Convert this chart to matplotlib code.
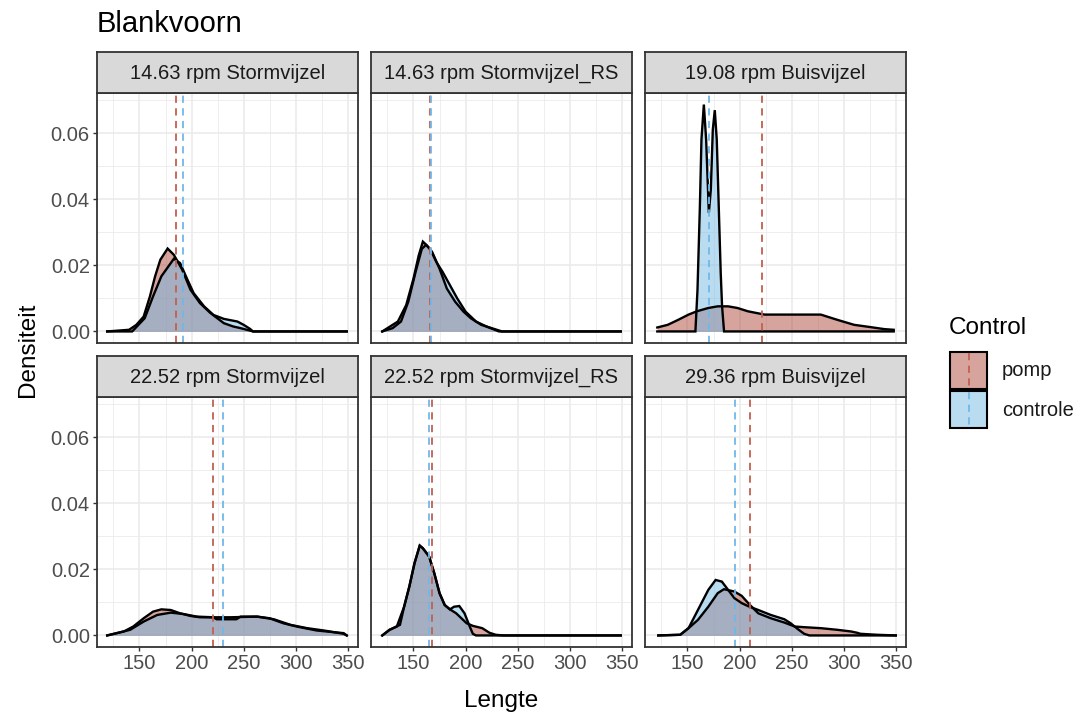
import matplotlib
matplotlib.use("Agg")
import matplotlib.pyplot as plt
from matplotlib.patches import Rectangle

plt.rcParams['font.family'] = ['Liberation Sans', 'DejaVu Sans']

# facet titles, in reading order
panels = ["14.63 rpm Stormvijzel", "14.63 rpm Stormvijzel_RS", "19.08 rpm Buisvijzel",
          "22.52 rpm Stormvijzel", "22.52 rpm Stormvijzel_RS", "29.36 rpm Buisvijzel"]
groups = ["pomp", "controle"]

# density curves (x = Lengte, y = Densiteit)
pomp_x = [
    [119, 140, 147, 154, 160, 165, 170, 177, 183, 191, 199, 208, 218, 231, 240, 247, 253, 259, 349],
    [120, 125, 135, 143, 150, 155, 159, 163, 168, 175, 182, 190, 198, 205, 215, 225, 235, 349],
    [121, 131, 141, 151, 159, 170, 179, 189, 198, 208, 224, 246, 278, 294, 310, 326, 339, 348],
    [119, 135, 144, 154, 163, 171, 180, 189, 199, 208, 221, 237, 263, 275, 288, 301, 320, 336, 346, 349],
    [120, 127, 137, 141, 146, 151, 156, 159, 165, 170, 175, 180, 185, 191, 201, 207, 216, 223, 229, 236, 349],
    [122, 143, 151, 160, 170, 179, 185, 195, 202, 210, 218, 230, 243, 253, 262, 278, 294, 307, 313, 316, 332, 350],
]
pomp_y = [
    [0, 0.0005, 0.002, 0.0045, 0.0106, 0.0167, 0.0217, 0.0251, 0.0232, 0.0187, 0.0126, 0.0086, 0.0056,
     0.0025, 0.0015, 0.0010, 0.0005, 0, 0],
    [0, 0.001, 0.003, 0.008, 0.016, 0.023, 0.0272, 0.026, 0.024, 0.019, 0.013, 0.009, 0.006, 0.004,
     0.002, 0.001, 0, 0],
    [0.0012, 0.0020, 0.0035, 0.0051, 0.0061, 0.0071, 0.0076, 0.0076, 0.0071, 0.0061, 0.0051, 0.0051,
     0.0051, 0.0035, 0.0020, 0.0013, 0.0007, 0.0005],
    [0, 0.0012, 0.0027, 0.0052, 0.0072, 0.0079, 0.0077, 0.0067, 0.0059, 0.0055, 0.0055, 0.0055, 0.0057,
     0.0052, 0.0037, 0.0027, 0.0015, 0.0010, 0.0007, 0],
    [0, 0.0017, 0.0032, 0.0087, 0.0148, 0.0219, 0.0272, 0.0264, 0.0239, 0.0188, 0.0128, 0.0092, 0.0079,
     0.0067, 0.0037, 0.0029, 0.0022, 0.0008, 0.0002, 0, 0],
    [0, 0.0002, 0.0022, 0.0047, 0.0087, 0.0128, 0.0140, 0.0133, 0.0120, 0.0092, 0.0067, 0.0052, 0.0039,
     0.0027, 0.0025, 0.0022, 0.0017, 0.0012, 0.0008, 0.0005, 0.0002, 0],
]
controle_x = [
    [119, 143, 155, 163, 171, 183, 189, 196, 202, 212, 221, 231, 244, 250, 256, 259, 349],
    [120, 130, 138, 145, 152, 158, 162, 166, 172, 178, 185, 192, 200, 210, 220, 232, 349],
    [121, 157.6, 159.6, 161.9, 163.4, 165.7, 167.9, 170.5, 172.4, 174.3, 176.2, 178.1, 180.0, 181.9,
     183.2, 185.1, 348],
    [119, 141, 154, 167, 180, 192, 205, 221, 224, 243, 247, 263, 279, 295, 311, 327, 346, 349],
    [120, 127, 134, 141, 146, 151, 156, 159, 165, 170, 175, 180, 185, 189, 194, 199, 204, 207, 210, 349],
    [122, 143, 151, 160, 170, 177, 183, 189, 195, 202, 208, 218, 230, 243, 249, 256, 262, 267, 350],
]
controle_y = [
    [0, 0, 0.004, 0.0106, 0.0167, 0.0220, 0.0207, 0.0157, 0.0116, 0.0076, 0.0050, 0.0038, 0.0030,
     0.0020, 0.0008, 0, 0],
    [0, 0.001, 0.003, 0.009, 0.018, 0.025, 0.0262, 0.025, 0.021, 0.018, 0.014, 0.010, 0.006, 0.003,
     0.0015, 0, 0],
    [0, 0, 0.0126, 0.0379, 0.0581, 0.0687, 0.0581, 0.0359, 0.0429, 0.0611, 0.0670, 0.0581, 0.0379,
     0.0177, 0.0076, 0, 0],
    [0, 0.0017, 0.0042, 0.0062, 0.0069, 0.0065, 0.0057, 0.0055, 0.0049, 0.0049, 0.0057, 0.0057, 0.0049,
     0.0032, 0.0022, 0.0015, 0.0005, 0],
    [0, 0.0017, 0.0027, 0.0087, 0.0148, 0.0219, 0.0272, 0.0264, 0.0239, 0.0188, 0.0128, 0.0092, 0.0079,
     0.0087, 0.0089, 0.0067, 0.0027, 0.0005, 0, 0],
    [0, 0.0002, 0.0022, 0.0077, 0.0138, 0.0168, 0.0163, 0.0138, 0.0113, 0.0098, 0.0089, 0.0077, 0.0062,
     0.0049, 0.0037, 0.0019, 0.0005, 0, 0],
]
# mean lengths (dashed lines)
pomp_mean = [185.2, 165.5, 221.4, 220.4, 167.9, 209.7]
controle_mean = [191.6, 166.5, 170.7, 230.6, 164.7, 195.9]

fill_col = {"pomp": "#B04A3C", "controle": "#77BBE5"}
line_col = {"pomp": "#C06050", "controle": "#70B8E8"}

W, H = 1080, 716
fig = plt.figure(figsize=(W / 100, H / 100), dpi=100)


def box(left, top, w, h):
    return [left / W, 1 - (top + h) / H, w / W, h / H]


col_left = [97, 371, 645]
row_top = [93, 397]
pw, ph, sh = 261, 250, 41

for i, name in enumerate(panels):
    r, c = divmod(i, 3)
    ax = fig.add_axes(box(col_left[c], row_top[r], pw, ph))
    curves = {"pomp": (pomp_x[i], pomp_y[i]), "controle": (controle_x[i], controle_y[i])}
    for g in groups:
        x, y = curves[g]
        ax.fill_between(x, y, 0, color=fill_col[g], alpha=0.5, lw=0)
        ax.plot(x, y, color="black", lw=1.7, solid_joinstyle="miter")
    ax.axvline(pomp_mean[i], color=line_col["pomp"], lw=1.3, dashes=(4, 3))
    ax.axvline(controle_mean[i], color=line_col["controle"], lw=1.3, dashes=(4, 3))

    ax.set_xlim(109.2, 359.8)
    ax.set_ylim(-0.0035, 0.0722)
    ax.set_xticks([150, 200, 250, 300, 350])
    ax.set_xticks([125, 175, 225, 275, 325], minor=True)
    ax.set_yticks([0, 0.02, 0.04, 0.06])
    ax.set_yticks([0.01, 0.03, 0.05, 0.07], minor=True)
    ax.set_yticklabels(["0.00", "0.02", "0.04", "0.06"])
    ax.grid(which="major", color="#EBEBEB", lw=1.2)
    ax.grid(which="minor", color="#EBEBEB", lw=0.6)
    ax.set_axisbelow(True)
    ax.tick_params(which="major", length=3.2, width=1, color="#333333",
                   labelsize=14.5, labelcolor="#4D4D4D", pad=2)
    ax.tick_params(which="minor", length=0)
    if c != 0:
        ax.tick_params(axis="y", labelleft=False, length=0)
    if r != 1:
        ax.tick_params(axis="x", labelbottom=False, length=0)
    for s in ax.spines.values():
        s.set_color("#333333")
        s.set_linewidth(1.3)

    sax = fig.add_axes(box(col_left[c], row_top[r] - sh, pw, sh))
    sax.set_facecolor("#D9D9D9")
    sax.set_xticks([])
    sax.set_yticks([])
    for s in sax.spines.values():
        s.set_color("#333333")
        s.set_linewidth(1.3)
    sax.text(0.5, 0.48, name, ha="center", va="center", fontsize=14.5,
             color="#1A1A1A", transform=sax.transAxes)

fig.text(97 / W, 1 - 24 / H, "Blankvoorn", fontsize=21, ha="left", va="center")
fig.text(28 / W, 1 - 350 / H, "Densiteit", fontsize=17.5, rotation=90, ha="center", va="center")
fig.text(501 / W, 1 - 701 / H, "Lengte", fontsize=17.5, ha="center", va="center")

# legend
lax = fig.add_axes([0, 0, 1, 1], facecolor="none")
lax.set_xlim(0, W)
lax.set_ylim(H, 0)
lax.axis("off")
lax.text(949, 328, "Control", fontsize=17.5, ha="left", va="center")
for k, g in enumerate(groups):
    top = 352 + k * 39
    lax.add_patch(Rectangle((950, top), 37, 37, facecolor="white", edgecolor="none"))
    lax.add_patch(Rectangle((950, top), 37, 37, facecolor=fill_col[g], alpha=0.5, edgecolor="none"))
    lax.add_patch(Rectangle((950, top), 37, 37, facecolor="none", edgecolor="black", lw=1.5))
    lax.plot([968.5, 968.5], [top + 1, top + 36], color=line_col[g], lw=1.3, dashes=(4, 3))
    lax.text(1002, top + 19, g, fontsize=14.5, ha="left", va="center", color="#1A1A1A")

fig.savefig("out.png", dpi=100)
